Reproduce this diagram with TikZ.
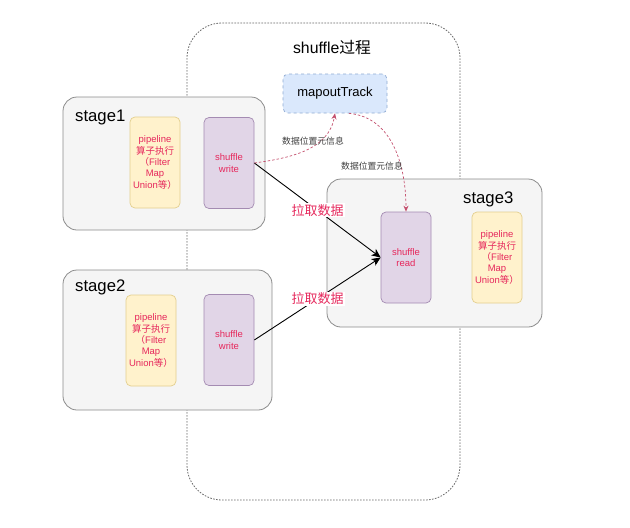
\documentclass[tikz,border=0pt]{standalone}
\usepackage{fontspec}
\setmainfont{Liberation Sans}
\newfontfamily\cjk{Noto Sans CJK SC}
\usetikzlibrary{arrows.meta}
\definecolor{stagefill}{HTML}{F5F5F5}
\definecolor{stageline}{HTML}{8C8C8C}
\definecolor{pipefill}{HTML}{FFF2CC}
\definecolor{pipeline}{HTML}{E3CF8E}
\definecolor{shufflefill}{HTML}{E1D5E7}
\definecolor{shuffleline}{HTML}{A48BB2}
\definecolor{trackfill}{HTML}{DAE8FC}
\definecolor{trackline}{HTML}{8FAAD3}
\definecolor{redtext}{HTML}{E6285C}
\definecolor{metaline}{HTML}{C4506E}
\tikzset{procbox/.style = {draw=black!60, fill=white, rounded corners=35, line width=0.8pt,
    dash pattern=on 1.6pt off 1.4pt, inner sep=0}}
\tikzset{stagebox/.style = {draw=stageline, fill=stagefill, rounded corners=14, line width=0.8pt, inner sep=0}}
\tikzset{pipebox/.style = {draw=pipeline, fill=pipefill, rounded corners=5, line width=0.7pt,
    minimum width=50, minimum height=91, inner sep=0, align=center, text=redtext,
    font=\fontsize{9.5}{11.3}\selectfont}}
\tikzset{shufflebox/.style = {pipebox, draw=shuffleline, fill=shufflefill}}
\tikzset{stagetext/.style = {anchor=west, inner sep=0, font=\fontsize{16.7}{20}\selectfont}}
\tikzset{pulltext/.style = {fill=white, inner sep=1pt, text=redtext, font=\fontsize{13}{15}\cjk}}
\tikzset{metatext/.style = {inner sep=0, text=black!75, font=\fontsize{8.8}{10}\cjk}}

\begin{document}
\begin{tikzpicture}[x=1pt, y=-1pt]
      \useasboundingbox (0,0) rectangle (630,528);

      \node[procbox, minimum width=273, minimum height=477] (proc) at (323.5,261.5) {};
      \node[inner sep=0, font=\fontsize{15.8}{18}\selectfont] (proctitle) at (332,48) {shuffle{\cjk 过程}};
      \node[draw=trackline, fill=trackfill, rounded corners=5, dashed, line width=0.7pt,
            minimum width=104, minimum height=39, inner sep=0,
            font=\fontsize{13}{15}\selectfont] (track) at (335,93.5) {mapoutTrack};

      \node[stagebox, minimum width=202, minimum height=133] (stage1) at (164,163.5) {};
      \node[stagebox, minimum width=209, minimum height=140] (stage2) at (167.5,340) {};
      \node[stagebox, minimum width=215, minimum height=148] (stage3) at (434.5,253) {};

      \node[stagetext] (stage1lbl) at (75,117) {stage1};
      \node[stagetext] (stage2lbl) at (75,287) {stage2};
      \node[stagetext] (stage3lbl) at (463,199) {stage3};

      \node[pipebox] (pipe1) at (155,162.5) {pipeline\\{\cjk 算子执行}\\{\cjk （}Filter\\Map\\Union{\cjk 等）}};
      \node[pipebox] (pipe2) at (151,340.5) {pipeline\\{\cjk 算子执行}\\{\cjk （}Filter\\Map\\Union{\cjk 等）}};
      \node[pipebox] (pipe3) at (497,257.5) {pipeline\\{\cjk 算子执行}\\{\cjk （}Filter\\Map\\Union{\cjk 等）}};

      \node[shufflebox] (write1) at (229,163) {shuffle\\write};
      \node[shufflebox] (write2) at (229,340) {shuffle\\write};
      \node[shufflebox] (read) at (406,257.5) {shuffle\\read};

      \draw[line width=0.9pt, -{Stealth[length=9pt, width=8pt, inset=2.5pt]}] (write1.east) -- node[pulltext] (pull1) {拉取数据} (read.west);
      \draw[line width=0.9pt, -{Stealth[length=9pt, width=8pt, inset=2.5pt]}] (write2.east) -- node[pulltext] (pull2) {拉取数据} (read.west);

      \draw[metaline, line width=0.7pt, dash pattern=on 2.5pt off 2pt, -{Stealth[length=6pt, width=5pt]}]
            (write1.east) to[out=8, in=-100] (track.south);
      \draw[metaline, line width=0.7pt, dash pattern=on 2.5pt off 2pt, -{Stealth[length=6pt, width=5pt]}]
            (track.-55) to[out=-5, in=90] (read.north);

      \node[metatext] (meta1) at (313,141) {数据位置元信息};
      \node[metatext] (meta2) at (372,166) {数据位置元信息};
  \end{tikzpicture}
\end{document}
